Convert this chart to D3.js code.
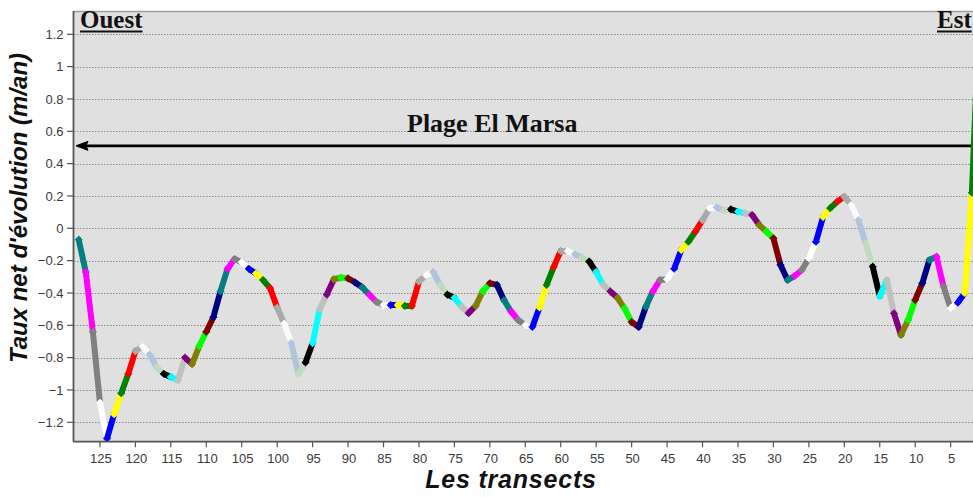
<!DOCTYPE html>
<html>
<head>
<meta charset="utf-8">
<script src="https://cdn.jsdelivr.net/npm/d3@7"></script>
<style>
  html, body { margin: 0; padding: 0; background: #ffffff; }
  svg { display: block; }
</style>
</head>
<body>
<svg id="chart" width="973" height="497"></svg>
<script>
// ---- Data ----
// Transect numbers, west (128) to east (1)
const transects = d3.range(128, 0, -1);
// Net shoreline change rate (m/an) at each transect, same order as transects
const rates = [
  -0.07, -0.27, -0.64, -1.08, -1.30, -1.15, -1.02, -0.90, -0.76, -0.73,   // 128-119
  -0.78, -0.86, -0.90, -0.92, -0.94, -0.80, -0.84, -0.73, -0.64, -0.55,   // 118-109
  -0.39, -0.25, -0.19, -0.21, -0.25, -0.28, -0.32, -0.37, -0.49, -0.59,   // 108-99
  -0.71, -0.90, -0.83, -0.71, -0.50, -0.41, -0.315, -0.305, -0.31, -0.335, // 98-89
  -0.365, -0.41, -0.455, -0.475, -0.475, -0.475, -0.48, -0.48, -0.33, -0.29, // 88-79
  -0.27, -0.35, -0.41, -0.43, -0.485, -0.525, -0.48, -0.39, -0.34, -0.35,  // 78-69
  -0.445, -0.515, -0.567, -0.60, -0.61, -0.49, -0.35, -0.24, -0.14, -0.14, // 68-59
  -0.16, -0.18, -0.205, -0.27, -0.35, -0.39, -0.43, -0.495, -0.58, -0.61,  // 58-49
  -0.485, -0.39, -0.32, -0.315, -0.25, -0.134, -0.083, -0.02, 0.05, 0.124, // 48-39
  0.13, 0.109, 0.117, 0.103, 0.093, 0.082, 0.02, -0.02, -0.062, -0.227,    // 38-29
  -0.32, -0.295, -0.258, -0.186, -0.083, 0.07, 0.124, 0.165, 0.195, 0.144, // 28-19
  0.05, -0.093, -0.237, -0.42, -0.32, -0.526, -0.66, -0.567, -0.443, -0.34, // 18-9
  -0.196, -0.175, -0.36, -0.495, -0.46, -0.40, 0.22, 1.30                   // 8-1
];
// Segment colours, cycling from the west end
const segmentColors = [
  "#008080", "#ff00ff", "#808080", "#ffffff", "#0000ff",
  "#ffff00", "#008000", "#ff0000", "#a9a9a9", "#fafafa",
  "#b0c4de", "#c0dcc0", "#000000", "#00ffff", "#c0c0c0",
  "#800080", "#808000", "#00ff00", "#800000", "#000080"
];
const xTickLabels = [125, 120, 115, 110, 105, 100, 95, 90, 85, 80, 75, 70, 65,
                     60, 55, 50, 45, 40, 35, 30, 25, 20, 15, 10, 5];
const yTickLabels = [-1.2, -1, -0.8, -0.6, -0.4, -0.2, 0, 0.2, 0.4, 0.6, 0.8, 1, 1.2];
const arrowLevel = 0.51;
const titleText = "Plage El Marsa";
const westLabel = "Ouest";
const eastLabel = "Est";
const xTitle = "Les transects";
const yTitle = "Taux net d'évolution (m/an)";

// ---- Layout ----
const W = 973, H = 497;
const plotLeft = 73, plotTop = 11, plotBottom = 441.7, plotRight = 1000;

const x = d3.scaleLinear().domain([128.8, 0]).range([plotLeft, 986.1]);
const y = d3.scaleLinear().domain([-1.32, 1.344]).range([plotBottom, plotTop]);

const svg = d3.select("#chart");
svg.append("rect").attr("width", W).attr("height", H).attr("fill", "#ffffff");

const defs = svg.append("defs");
defs.append("clipPath").attr("id", "plotclip")
  .append("rect").attr("x", plotLeft).attr("y", plotTop)
  .attr("width", plotRight - plotLeft).attr("height", plotBottom - plotTop);

// plot background
svg.append("rect")
  .attr("x", plotLeft).attr("y", plotTop)
  .attr("width", plotRight - plotLeft).attr("height", plotBottom - plotTop)
  .attr("fill", "#e0e0e0");

// grid lines
svg.append("g").selectAll("line").data(yTickLabels).join("line")
  .attr("x1", plotLeft + 1).attr("x2", W)
  .attr("y1", d => Math.round(y(d)) + 0.5).attr("y2", d => Math.round(y(d)) + 0.5)
  .attr("stroke", "#8a8a8a").attr("stroke-width", 1)
  .attr("stroke-dasharray", "1.5,1.5");

// top border
svg.append("line").attr("x1", plotLeft).attr("x2", W)
  .attr("y1", plotTop + 0.5).attr("y2", plotTop + 0.5)
  .attr("stroke", "#a0a0a0").attr("stroke-width", 1.5);

// arrow
const ay = y(arrowLevel);
svg.append("line").attr("x1", 84).attr("x2", W).attr("y1", ay).attr("y2", ay)
  .attr("stroke", "#000").attr("stroke-width", 2.6);
svg.append("path")
  .attr("d", `M76,${ay} L88,${ay - 4.5} L86,${ay} L88,${ay + 4.5} Z`)
  .attr("fill", "#000").attr("stroke", "#000").attr("stroke-width", 1);

// data segments
const pts = transects.map((t, i) => ({ t, v: rates[i] }));
const segs = d3.range(pts.length - 1).map(i => ({
  a: pts[i], b: pts[i + 1], color: segmentColors[i % segmentColors.length]
}));
const gData = svg.append("g").attr("clip-path", "url(#plotclip)");
const line = d3.line().x(d => x(d.t)).y(d => y(d.v));
gData.selectAll("path.seg").data(segs).join("path")
  .attr("class", "seg")
  .attr("d", d => line([d.a, d.b]))
  .attr("fill", "none")
  .attr("stroke", d => d.color)
  .attr("stroke-width", 6)
  .attr("stroke-linecap", "round")
  .attr("stroke-linejoin", "round");
// "+" markers
gData.selectAll("path.mk").data(segs).join("path")
  .attr("class", "mk")
  .attr("d", d => {
    const cx = x(d.a.t), cy = y(d.a.v), r = 3.8;
    return `M${cx - r},${cy} L${cx + r},${cy} M${cx},${cy - r} L${cx},${cy + r}`;
  })
  .attr("stroke", d => d.color)
  .attr("stroke-width", 1.4)
  .attr("fill", "none");

// axes
const axisColor = "#555555";
svg.append("line").attr("x1", plotLeft + 0.5).attr("x2", plotLeft + 0.5)
  .attr("y1", plotTop).attr("y2", plotBottom)
  .attr("stroke", axisColor).attr("stroke-width", 1.8);
svg.append("line").attr("x1", plotLeft).attr("x2", W)
  .attr("y1", plotBottom).attr("y2", plotBottom)
  .attr("stroke", axisColor).attr("stroke-width", 1.8);

const gy = svg.append("g");
gy.selectAll("line").data(yTickLabels).join("line")
  .attr("x1", 67).attr("x2", plotLeft)
  .attr("y1", d => y(d)).attr("y2", d => y(d))
  .attr("stroke", axisColor).attr("stroke-width", 1.2);
gy.selectAll("text").data(yTickLabels).join("text")
  .attr("x", 63.5).attr("y", d => y(d))
  .attr("dy", "0.35em")
  .attr("text-anchor", "end")
  .attr("font-family", "'Liberation Sans', Arial, sans-serif")
  .attr("font-size", 13)
  .attr("fill", "#3a3a3a")
  .text(d => d3.format("")(+d.toFixed(1)));

const gx = svg.append("g");
gx.selectAll("line").data(xTickLabels).join("line")
  .attr("x1", d => x(d)).attr("x2", d => x(d))
  .attr("y1", plotBottom).attr("y2", plotBottom + 5.5)
  .attr("stroke", axisColor).attr("stroke-width", 1.2);
gx.selectAll("text").data(xTickLabels).join("text")
  .attr("x", d => x(d) + 1).attr("y", 463)
  .attr("text-anchor", "middle")
  .attr("font-family", "'Liberation Sans', Arial, sans-serif")
  .attr("font-size", 13)
  .attr("fill", "#3a3a3a")
  .text(d => d);

// axis titles
svg.append("text")
  .attr("x", 511).attr("y", 488)
  .attr("text-anchor", "middle")
  .attr("font-family", "'Liberation Sans', Arial, sans-serif")
  .attr("font-size", 25).attr("font-weight", "bold").attr("font-style", "italic")
  .attr("letter-spacing", "0.8px")
  .attr("fill", "#111")
  .text(xTitle);
svg.append("text")
  .attr("transform", "translate(27,208) rotate(-90)")
  .attr("text-anchor", "middle")
  .attr("font-family", "'Liberation Sans', Arial, sans-serif")
  .attr("font-size", 24).attr("font-weight", "bold").attr("font-style", "italic")
  .attr("fill", "#111")
  .text(yTitle);

// annotations
function underlinedLabel(txt, x0, base, size) {
  const t = svg.append("text")
    .attr("x", x0).attr("y", base)
    .attr("font-family", "'Liberation Serif', 'Times New Roman', serif")
    .attr("font-size", size).attr("font-weight", "bold")
    .attr("fill", "#111")
    .text(txt);
  const w = t.node().getComputedTextLength();
  svg.append("line").attr("x1", x0).attr("x2", x0 + w)
    .attr("y1", base + 3.5).attr("y2", base + 3.5)
    .attr("stroke", "#111").attr("stroke-width", 2);
}
underlinedLabel(westLabel, 80, 28, 25);
underlinedLabel(eastLabel, 937, 28, 25);

svg.append("text")
  .attr("x", 407).attr("y", 132)
  .attr("font-family", "'Liberation Serif', 'Times New Roman', serif")
  .attr("font-size", 26).attr("font-weight", "bold")
  .attr("fill", "#111")
  .text(titleText);
</script>
</body>
</html>
